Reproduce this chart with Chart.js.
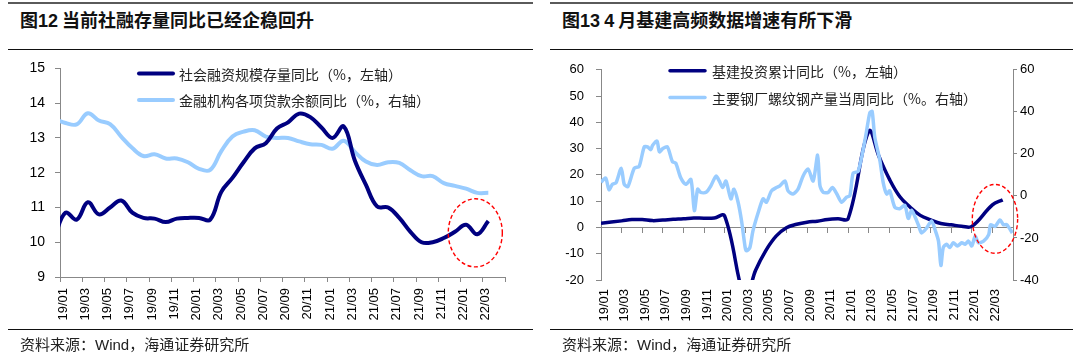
<!DOCTYPE html>
<html><head><meta charset="utf-8">
<script src="https://cdn.jsdelivr.net/npm/chart.js@4.4.1/dist/chart.umd.min.js"></script>
<style>
html,body{margin:0;padding:0;background:#fff;}
body{width:1080px;height:358px;position:relative;overflow:hidden;font-family:"Liberation Sans",Arial,sans-serif;}
.rule-top{position:absolute;top:2px;height:2px;background:#5a5a5a;}
.rule{position:absolute;height:1px;background:#111;}
.title{position:absolute;top:8px;font-family:"Noto Sans CJK SC";font-weight:700;font-size:18px;line-height:22px;color:#111;white-space:nowrap;}
.title b{font-family:"Liberation Sans",Arial,sans-serif;font-weight:700;}
.src{position:absolute;top:335px;font-family:"Noto Sans CJK SC";font-size:15px;line-height:18px;color:#222;white-space:nowrap;}
.src span{font-family:"Liberation Sans",Arial,sans-serif;}
.box{position:absolute;top:50px;width:540px;height:280px;}
</style></head><body>
<div class="rule-top" style="left:8px;width:525px"></div>
<div class="title" style="left:20px">图<b>12</b> 当前社融存量同比已经企稳回升</div>
<div class="rule" style="left:8px;width:525px;top:49px"></div>
<div class="box" style="left:0"><canvas id="c1" width="540" height="280"></canvas></div>
<div class="rule" style="left:8px;width:525px;top:329px"></div>
<div class="src" style="left:20px">资料来源：<span>Wind</span>，海通证券研究所</div>

<div class="rule-top" style="left:550px;width:523px"></div>
<div class="title" style="left:562px">图<b>13</b> <b>4</b> 月基建高频数据增速有所下滑</div>
<div class="rule" style="left:550px;width:523px;top:49px"></div>
<div class="box" style="left:540px"><canvas id="c2" width="540" height="280"></canvas></div>
<div class="rule" style="left:550px;width:523px;top:329px"></div>
<div class="src" style="left:562px">资料来源：<span>Wind</span>，海通证券研究所</div>

<script>
// ---------- data: left chart (monthly, 2018-12 .. 2022-03) ----------
const sfMonths = ['2018-12',
 '2019-01','2019-02','2019-03','2019-04','2019-05','2019-06','2019-07','2019-08','2019-09','2019-10','2019-11','2019-12',
 '2020-01','2020-02','2020-03','2020-04','2020-05','2020-06','2020-07','2020-08','2020-09','2020-10','2020-11','2020-12',
 '2021-01','2021-02','2021-03','2021-04','2021-05','2021-06','2021-07','2021-08','2021-09','2021-10','2021-11','2021-12',
 '2022-01','2022-02','2022-03'];
const socialFinancing = [10.15,
 10.85,10.65,11.15,10.8,11.0,11.2,10.85,10.7,10.68,10.58,10.68,10.7,
 10.7,10.65,11.45,11.85,12.3,12.7,12.85,13.27,13.45,13.7,13.6,13.3,
 13.0,13.33,12.35,11.65,11.03,11.0,10.7,10.3,10.0,10.0,10.12,10.3,
 10.5,10.23,10.61];
const loanGrowth = [13.55,
 13.43,13.39,13.71,13.5,13.4,13.04,12.71,12.48,12.53,12.41,12.41,12.3,
 12.11,12.08,12.62,13.04,13.18,13.22,13.04,13.0,13.0,12.9,12.82,12.8,
 12.69,12.92,12.6,12.32,12.22,12.3,12.28,12.07,11.9,11.9,11.7,11.62,
 11.54,11.42,11.42];

// ---------- data: right chart ----------
const infraMonths = ['2018-12','2019-02','2019-03','2019-04','2019-05','2019-06','2019-07','2019-08','2019-09','2019-10','2019-11','2019-12',
 '2020-02','2020-03','2020-04','2020-05','2020-06','2020-07','2020-08','2020-09','2020-10','2020-11','2020-12',
 '2021-02','2021-03','2021-04','2021-05','2021-06','2021-07','2021-08','2021-09','2021-10','2021-11','2021-12',
 '2022-02','2022-03'];
const infraValues = [1.6,2.5,3.0,3.0,2.6,2.8,3.1,3.3,3.6,3.5,3.6,4.4,
 -27.0,-16.4,-8.8,-3.3,-0.1,1.2,2.0,2.4,3.0,3.3,3.4,
 36.6,26.9,18.4,11.8,7.8,4.6,2.9,1.5,1.0,0.5,0.4,
 8.6,10.5];

const steelDates = ['2019-01-01','2019-01-15','2019-01-25','2019-02-04','2019-02-14','2019-02-28','2019-03-09','2019-03-20',
 '2019-04-08','2019-04-22','2019-05-07','2019-05-17','2019-05-27','2019-06-01','2019-06-14','2019-06-21','2019-07-01','2019-07-15',
 '2019-07-30','2019-08-09','2019-08-24','2019-09-08','2019-09-23','2019-10-03','2019-10-13','2019-10-22','2019-11-07','2019-11-21',
 '2019-12-06','2019-12-16','2019-12-26','2020-01-05','2020-01-20','2020-01-29','2020-02-10','2020-02-20','2020-03-01','2020-03-05',
 '2020-03-15','2020-03-24','2020-04-08','2020-04-23','2020-05-03','2020-05-18','2020-06-02','2020-06-12','2020-06-27','2020-07-06',
 '2020-07-21','2020-08-05','2020-08-20','2020-09-04','2020-09-19','2020-10-02','2020-10-09','2020-10-19','2020-11-03','2020-11-15',
 '2020-11-28','2020-12-12','2020-12-27','2021-01-06','2021-01-16','2021-01-31','2021-02-20','2021-03-04','2021-03-11','2021-03-19',
 '2021-04-03','2021-04-13','2021-04-23','2021-05-02','2021-05-17','2021-06-01','2021-06-16','2021-06-26','2021-07-06','2021-07-16',
 '2021-07-26','2021-08-05','2021-08-20','2021-09-04','2021-09-14','2021-09-24','2021-10-01','2021-10-08','2021-10-18','2021-10-28',
 '2021-11-07','2021-11-19','2021-12-02','2021-12-12','2021-12-22','2022-01-01','2022-01-11','2022-01-21','2022-02-05','2022-02-19',
 '2022-02-24','2022-03-09','2022-03-24','2022-04-03','2022-04-13','2022-04-29'];
const steelValues = [6.5,8.5,3.0,5.5,6.3,13.2,5.5,4.5,
 13.2,14.0,23.3,23.3,22.0,24.0,26.1,21.0,22.5,23.3,
 16.3,15.6,8.6,5.5,7.8,-7.0,3.2,1.7,1.7,4.8,
 9.4,7.1,4.0,7.1,-1.4,3.2,-3.0,-12.2,-24.6,-26.1,
 -24.6,-16.9,-8.4,-1.4,-3.0,2.4,4.0,4.8,7.1,2.4,
 0.9,3.2,9.4,12.8,7.1,19.4,4.8,1.7,1.7,4.0,
 0.9,-3.0,-0.6,0.1,10.9,11.7,27.9,39.5,40.2,27.9,
 17.1,6.3,0.9,2.4,-5.3,-6.1,-4.5,-10.7,-6.8,-9.9,
 -13.7,-17.6,-15.3,-11.9,-16.1,-21.5,-33.1,-24.6,-23.0,-24.6,
 -22.3,-23.8,-22.3,-23.0,-21.5,-23.8,-19.2,-22.3,-21.5,-18.4,
 -13.7,-14.5,-11.4,-13.7,-13.7,-17.6];

// ---------- tick labels ----------
const xTickLabels = ['19/01','19/03','19/05','19/07','19/09','19/11','20/01','20/03','20/05','20/07',
 '20/09','20/11','21/01','21/03','21/05','21/07','21/09','21/11','22/01','22/03'];
const leftYTicks = {min:9, max:15, step:1};
const infraYTicks = {min:-20, max:60, step:10};
const steelYTicks = {min:-40, max:60, step:20};

// ---------- helpers: dates -> months since 2019-01-01 ----------
function ym(s){const p=s.split('-').map(Number);return {y:p[0],m:p[1],d:p[2]||1};}
function midMonth(s){const a=ym(s);return (a.y-2019)*12+(a.m-1)+0.5;}
function monthEnd(s){const a=ym(s);return (a.y-2019)*12+a.m;}
function dayPos(s){const a=ym(s);const dim=new Date(a.y,a.m,0).getDate();return (a.y-2019)*12+(a.m-1)+(a.d-1)/dim;}

const NAVY='#000080', LIGHT='#99CCFF', AXIS='#888888';
const tickFont={family:'"Liberation Sans", Arial, sans-serif', size:13};
const yTickFontL={family:'"Liberation Sans", Arial, sans-serif', size:14};

const insideLegend={id:'insideLegend',afterDraw(chart,args,o){
  const ctx=chart.ctx,a=chart.chartArea;ctx.save();
  ctx.font=o.font;ctx.textBaseline='middle';ctx.textAlign='left';
  chart.data.datasets.forEach((ds,i)=>{
    const y=a.top+o.top+i*o.rowGap,x0=a.left+o.left;
    ctx.strokeStyle=ds.borderColor;ctx.lineWidth=ds.borderWidth;ctx.lineCap='round';
    ctx.beginPath();ctx.moveTo(x0+2,y);ctx.lineTo(x0+o.lineLen-2,y);ctx.stroke();
    ctx.fillStyle=o.color;ctx.fillText(ds.label,x0+o.lineLen+o.textGap,y+1);
  });ctx.restore();}};
const ellipseNote={id:'ellipseNote',afterDatasetsDraw(chart,args,o){
  const ctx=chart.ctx;ctx.save();
  (o.items||[]).forEach(e=>{
    const xs=chart.scales.x,ys=chart.scales[e.yAxis||'y'];
    const cx=xs.getPixelForValue(e.x),cy=ys.getPixelForValue(e.y);
    const rx=Math.abs(xs.getPixelForValue(e.x+e.rx)-cx),ry=Math.abs(ys.getPixelForValue(e.y+e.ry)-cy);
    ctx.setLineDash([4,2.5]);ctx.strokeStyle='#FF0000';ctx.lineWidth=1.4;
    ctx.beginPath();ctx.ellipse(cx,cy,rx,ry,0,0,Math.PI*2);ctx.stroke();
  });ctx.restore();}};

function xLabelsCb(v){const i=v/2;return Number.isInteger(i)&&i<xTickLabels.length?xTickLabels[i]:'';}

// ---------- left chart ----------
new Chart(document.getElementById('c1'),{
  type:'line',
  data:{datasets:[
    {label:'社会融资规模存量同比（%，左轴）',data:sfMonths.map((m,i)=>({x:midMonth(m),y:socialFinancing[i]})),
     borderColor:NAVY,backgroundColor:NAVY,borderWidth:4,tension:0.4,pointRadius:0,clip:0},
    {label:'金融机构各项贷款余额同比（%，右轴）',data:sfMonths.map((m,i)=>({x:midMonth(m),y:loanGrowth[i]})),
     borderColor:LIGHT,backgroundColor:LIGHT,borderWidth:4,tension:0.4,pointRadius:0,clip:0}
  ]},
  options:{
    responsive:false,animation:false,devicePixelRatio:1,
    layout:{padding:{left:0,right:35,top:11,bottom:0}},
    plugins:{legend:{display:false},tooltip:{enabled:false},
      insideLegend:{left:77,top:5,rowGap:26.6,lineLen:38,textGap:4,font:'14px "Noto Sans CJK SC"',color:'#222'},
      ellipseNote:{items:[{x:37.33,y:10.27,rx:2.43,ry:0.98}]}},
    scales:{
      x:{type:'linear',min:0,max:40,afterFit(s){s.height=53;},
        ticks:{stepSize:2,autoSkip:false,maxRotation:90,minRotation:90,padding:6,labelOffset:3,font:tickFont,color:'#000',callback:xLabelsCb},
        grid:{drawOnChartArea:false,drawTicks:true,tickLength:5,color:AXIS},border:{color:AXIS}},
      y:{min:leftYTicks.min,max:leftYTicks.max,afterFit(s){s.width=60;},
        ticks:{stepSize:leftYTicks.step,padding:10,font:yTickFontL,color:'#000'},
        grid:{drawOnChartArea:false,tickLength:5,color:AXIS},border:{color:AXIS}}
    }
  },
  plugins:[insideLegend,ellipseNote]
});

// ---------- right chart ----------
new Chart(document.getElementById('c2'),{
  type:'line',
  data:{datasets:[
    {label:'基建投资累计同比（%，左轴）',data:infraMonths.map((m,i)=>({x:monthEnd(m),y:infraValues[i]})),
     borderColor:NAVY,backgroundColor:NAVY,borderWidth:3.5,tension:0.4,pointRadius:0,clip:0,yAxisID:'y',order:1},
    {label:'主要钢厂螺纹钢产量当周同比（%。右轴）',data:steelDates.map((d,i)=>({x:dayPos(d),y:steelValues[i]})),
     borderColor:LIGHT,backgroundColor:LIGHT,borderWidth:3.5,tension:0.25,pointRadius:0,clip:0,yAxisID:'y1',order:0}
  ]},
  options:{
    responsive:false,animation:false,devicePixelRatio:1,
    layout:{padding:{left:0,right:7,top:14,bottom:0}},
    plugins:{legend:{display:false},tooltip:{enabled:false},
      insideLegend:{left:67,top:1,rowGap:26.7,lineLen:39,textGap:5,font:'14px "Noto Sans CJK SC"',color:'#222'},
      ellipseNote:{items:[{x:38.25,y:3.26,rx:2.2,ry:13.1}]}},
    scales:{
      x:{type:'linear',min:0,max:40,afterFit(s){s.height=50;},
        ticks:{stepSize:2,autoSkip:false,maxRotation:90,minRotation:90,padding:9,labelOffset:3,font:tickFont,color:'#000',callback:xLabelsCb},
        grid:{display:false,drawTicks:false},border:{display:false}},
      x2:{type:'linear',position:{y:0},min:0,max:40,
        ticks:{display:false,stepSize:2,autoSkip:false},
        grid:{drawOnChartArea:false,drawTicks:true,tickLength:5,color:AXIS},border:{color:AXIS}},
      y:{position:'left',min:infraYTicks.min,max:infraYTicks.max,afterFit(s){s.width=61;},
        ticks:{stepSize:infraYTicks.step,padding:12,font:tickFont,color:'#000'},
        grid:{drawOnChartArea:false,tickLength:5,color:AXIS},border:{color:AXIS}},
      y1:{position:'right',min:steelYTicks.min,max:steelYTicks.max,afterFit(s){s.width=60;},
        ticks:{stepSize:steelYTicks.step,padding:3,font:tickFont,color:'#000'},
        grid:{drawOnChartArea:false,tickLength:4,color:AXIS},border:{color:AXIS}}
    }
  },
  plugins:[insideLegend,ellipseNote]
});
</script>
</body></html>
